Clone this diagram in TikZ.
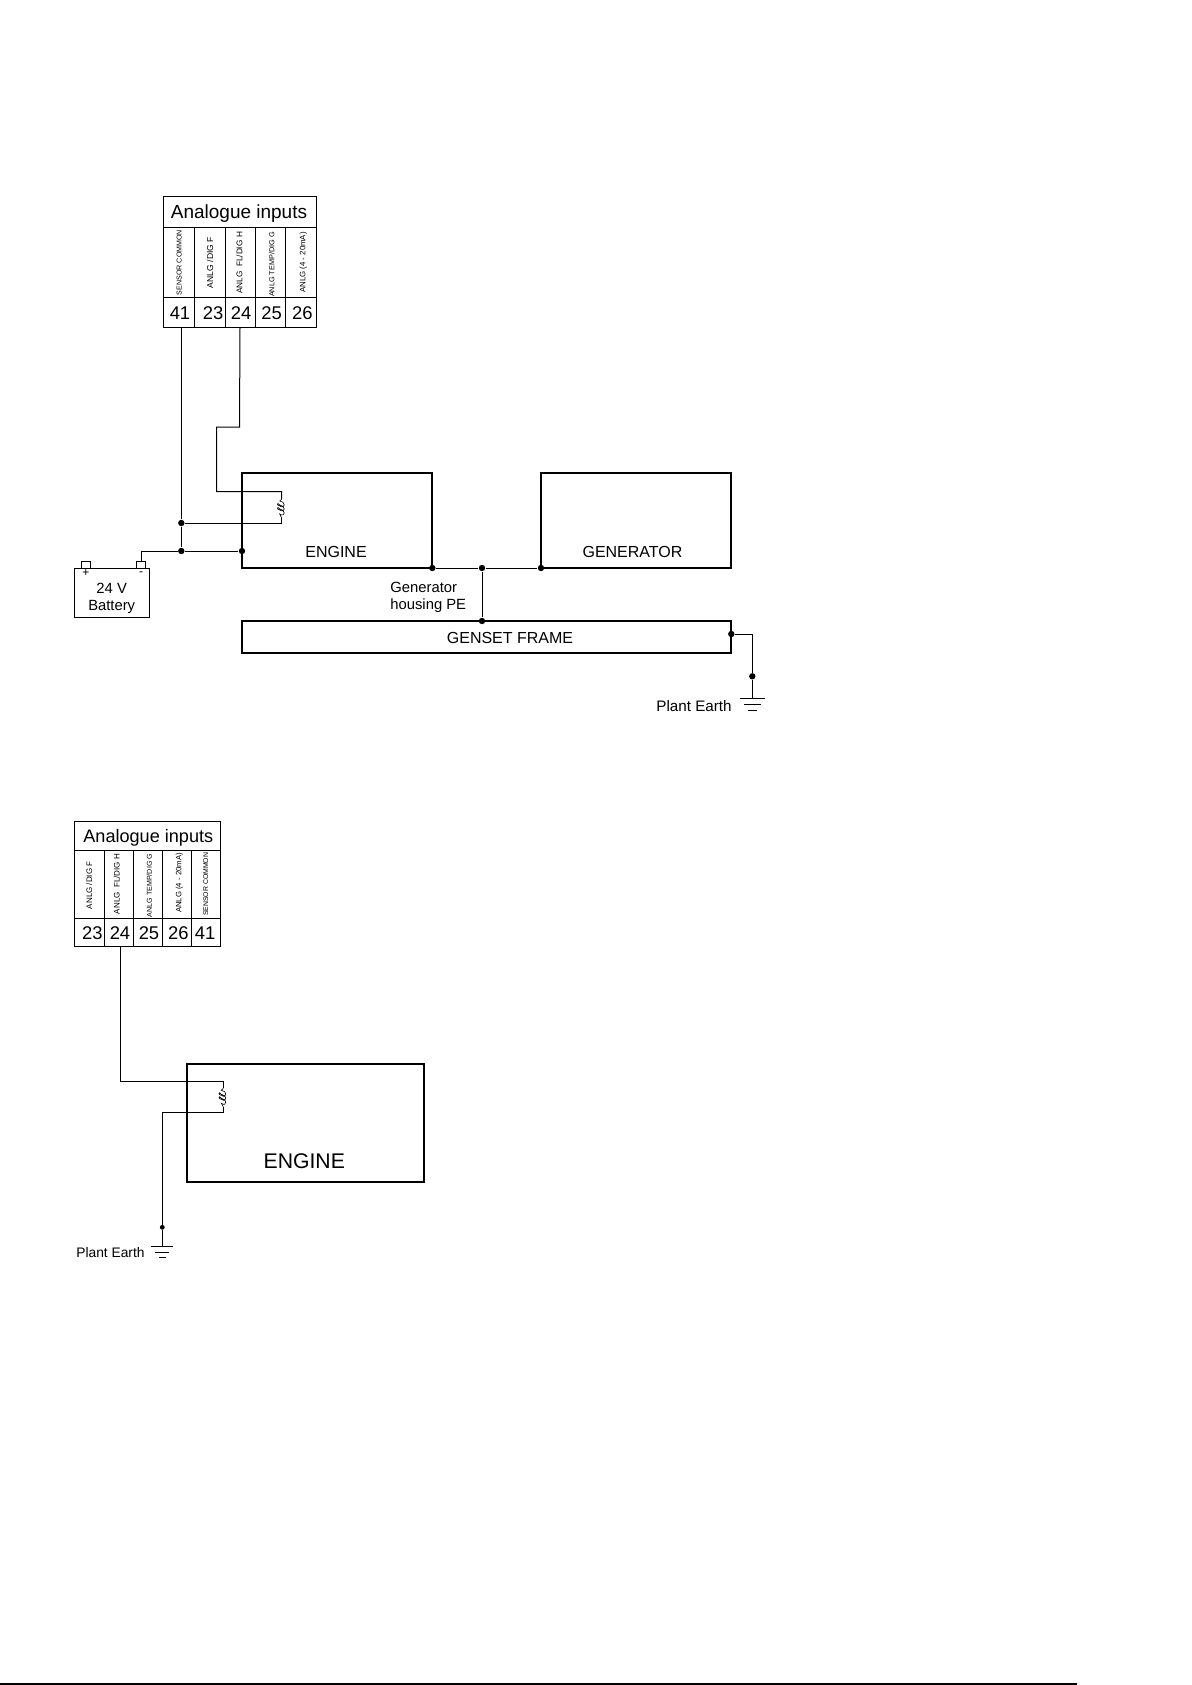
\documentclass[tikz,border=0pt]{standalone}
\usepackage{fontspec}
\setmainfont{Liberation Sans}
\tikzset{
  wire/.style={draw=black, line width=0.5pt},
  coilwire/.style={draw=black, line width=0.3pt},
  box/.style={draw=black, line width=0.85pt, inner sep=0pt},
  cell/.style={draw=black, line width=0.5pt, inner sep=0pt},
  dot/.style={circle, fill=black, inner sep=0pt, minimum size=3.2pt},
  smalldot/.style={circle, fill=black, inner sep=0pt, minimum size=2.4pt},
  vlabel/.style={rotate=90, inner sep=0pt},
  num/.style={inner sep=0pt, font=\fontsize{9.2}{11}\selectfont},
  boxtext/.style={inner sep=0pt, font=\fontsize{8}{10}\selectfont, align=center}
}
\begin{document}
\begin{tikzpicture}[x=0.5pt, y=-0.5pt]

  \useasboundingbox (0,0) rectangle (1192,1685);

  % upper terminal block
  \node [cell, minimum width=76.3pt, minimum height=15.3pt] (title1) at (240,212) {};
  \node [inner sep=0pt, font=\fontsize{9.5}{11}\selectfont] at (239,214) {Analogue inputs};
  \foreach \name/\xa/\xb/\txt/\fs/\tx/\ty/\nx in {
    41/163.7/194.3/{SENSOR COMMON}/3.55/179.3/262.5/180,
    23/194.3/225.7/{ANLG /DIG F}/4.3/210/262.5/213,
    24/225.7/255.7/{ANLG\ \ FL/DIG H}/4.13/239.3/263/241,
    25/255.7/285.7/{ANLG TEMP/DIG G}/3.65/271.7/264.5/271.7,
    26/285.7/316.3/{ANLG (4 - 20mA)}/3.93/303.3/262.5/302.3} {
    \draw [cell] (\xa,227.3) rectangle (\xb,297.3);
    \node [cell, minimum width={(\xb-\xa)*0.5pt}, minimum height=15pt] (t\name) at ({(\xa+\xb)/2},312.3) {};
    \node [vlabel, font=\fontsize{\fs}{5}\selectfont] at (\tx,\ty) {\txt};
    \node [num] at (\nx,313) {\name};
  }

  % upper engine and generator
  \node [box, minimum width=95.15pt, minimum height=47.35pt] (engine1) at (337.15,520.35) {};
  \node [box, minimum width=95.15pt, minimum height=47.35pt] (generator) at (636.15,520.35) {};
  \node [box, minimum width=244.65pt, minimum height=15.85pt] (frame) at (486.65,636.85) {};
  \node [boxtext] at (336,551.5) {ENGINE};
  \node [boxtext] at (632.5,551.5) {GENERATOR};
  \node [boxtext] at (510,638) {GENSET FRAME};
  \node [boxtext, anchor=west, align=left, font=\fontsize{7.4}{8.5}\selectfont] at (390,597) {Generator\\housing PE};
  \node [boxtext, anchor=east, font=\fontsize{7.6}{9}\selectfont] at (732,706) {Plant Earth};

  % battery
  \node [box, line width=0.7pt, minimum width=37.3pt, minimum height=24.7pt] (battery) at (112,593) {};
  \node [cell, line width=0.7pt, minimum width=4.3pt, minimum height=3.3pt] (plus) at (86,565) {};
  \node [cell, line width=0.7pt, minimum width=4.3pt, minimum height=3.3pt] (minus) at (141,565) {};
  \node [inner sep=0pt, font=\fontsize{6}{7}\selectfont] at (86,573.5) {+};
  \node [inner sep=0pt, font=\fontsize{6}{7}\selectfont] at (141,573.5) {-};
  \node [boxtext, font=\fontsize{7.4}{8.3}\selectfont] at (111.7,598.5) {24 V\\Battery};

  % junctions
  \node [dot] (j1) at (181.3,523) {};
  \node [dot] (j2) at (181.3,551) {};
  \node [dot] (j3) at (242,551) {};
  \node [dot] (j4) at (432.3,568) {};
  \node [dot] (j5) at (482,568) {};
  \node [dot] (j6) at (541,568) {};
  \node [dot] (j7) at (482,621) {};
  \node [dot] (j8) at (731.3,634) {};
  \node [dot] (j9) at (752.3,676.3) {};
  \coordinate (coil1a) at (281.7,499);
  \coordinate (coil1b) at (281.7,518);
  \coordinate (earth1) at (752.3,698.3);

  % upper wiring
  \draw [wire] (t41.south -| j1) -- (j1);
  \draw [wire] (j1) -- (j2);
  \draw [wire] (j2) -- (j3);
  \draw [wire] (t24.south -| 240,0) -- (239.5,427) -- (216.7,427) -- (216.7,491.7) -- (281.7,491.7) -- (coil1a);
  \draw [wire] (coil1b) -- (281.7,523) -- (j1);
  \draw [wire] (minus.north) -- (minus.north |- j2) -- (j2);
  \draw [wire] (j4) -- (j5);
  \draw [wire] (j5) -- (j6);
  \draw [wire] (j5) -- (j7);
  \draw [wire] (j8) -| (j9);
  \draw [wire] (j9) -- (earth1);

  % upper coil
  \draw [coilwire] (coil1a) -- ++(-2,2)
    .. controls +(6,0) and +(6,4) .. ++(0,5)
    .. controls +(-3,0) and +(-3,-4) .. ++(0,-1)
    .. controls +(6,0) and +(6,4) .. ++(0,5)
    .. controls +(-3,0) and +(-3,-4) .. ++(0,-1)
    .. controls +(6,0) and +(6,4) .. ++(0,5) -- (coil1b);

  % upper earth
  \draw [wire] (740,698.3) -- (765,698.3);
  \draw [wire] (744,704.3) -- (760.7,704.3);
  \draw [wire] (748.3,710) -- (756.7,710);

  % lower terminal block
  \node [cell, minimum width=73pt, minimum height=14.5pt] (title2) at (147.3,836.2) {};
  \node [inner sep=0pt, font=\fontsize{9.05}{11}\selectfont] at (148.3,838) {Analogue inputs};
  \foreach \name/\xa/\xb/\txt/\fs/\tx/\ty/\nx in {
    23/74.3/104/{ANLG /DIG F}/4.0/89.3/885.3/92.3,
    24/104/133.3/{ANLG\ \ FL/DIG H}/4.0/116.7/884/120,
    25/133.3/162.7/{ANLG TEMP/DIG G}/3.55/149.3/885.5/149,
    26/162.7/191.7/{ANLG (4 - 20mA)}/3.88/179.3/883/178.3,
    41/191.7/220.3/{SENSOR COMMON}/3.45/205.7/884.3/205} {
    \draw [cell] (\xa,850.7) rectangle (\xb,918.3);
    \node [cell, minimum width={(\xb-\xa)*0.5pt}, minimum height=14.3pt] (u\name) at ({(\xa+\xb)/2},932.6) {};
    \node [vlabel, font=\fontsize{\fs}{5}\selectfont] at (\tx,\ty) {\txt};
    \node [num] at (\nx,933) {\name};
  }

  % lower engine
  \node [box, minimum width=118.65pt, minimum height=59pt] (engine2) at (305.65,1123) {};
  \node [inner sep=0pt, font=\fontsize{10.6}{14}\selectfont] at (304.3,1161) {ENGINE};
  \node [boxtext, anchor=east, font=\fontsize{6.9}{9}\selectfont] at (145,1252.7) {Plant Earth};

  \node [smalldot] (j10) at (162.3,1227.3) {};
  \coordinate (coil2a) at (223.3,1088.3);
  \coordinate (coil2b) at (223.3,1106.7);
  \coordinate (earth2) at (162.3,1246);

  % lower wiring
  \draw [wire] (u24.south -| 120.3,0) -- (120.3,1081.7) -- (223.3,1081.7) -- (coil2a);
  \draw [wire] (coil2b) -- (223.3,1112.3) -- (162.3,1112.3) -- (j10);
  \draw [wire] (j10) -- (earth2);

  % lower coil
  \draw [coilwire] (coil2a) -- ++(-2,2)
    .. controls +(6,0) and +(6,4) .. ++(0,5)
    .. controls +(-3,0) and +(-3,-4) .. ++(0,-1)
    .. controls +(6,0) and +(6,4) .. ++(0,5)
    .. controls +(-3,0) and +(-3,-4) .. ++(0,-1)
    .. controls +(6,0) and +(6,4) .. ++(0,5) -- (coil2b);

  % lower earth
  \draw [wire] (150.7,1246) -- (173,1246);
  \draw [wire] (155,1252) -- (169.3,1252);
  \draw [wire] (159.3,1257.3) -- (166,1257.3);

  % rule along the bottom edge
  \draw [draw=black, line width=0.9pt] (0,1684) -- (1077,1684);

\end{tikzpicture}
\end{document}
